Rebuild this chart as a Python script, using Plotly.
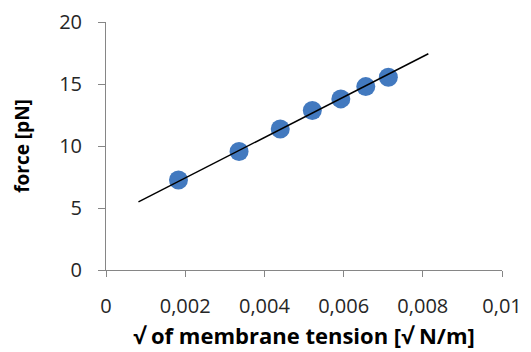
import plotly.graph_objects as go

tension_sqrt = [0.00183, 0.00336, 0.00440, 0.00521, 0.00593, 0.00656, 0.00713]
force_pN = [7.26, 9.56, 11.37, 12.87, 13.80, 14.79, 15.55]

trend_x = [0.00082, 0.00814]
trend_y = [5.5, 17.44]

x_tickvals = [0, 0.002, 0.004, 0.006, 0.008, 0.01]
x_ticktext = ["0", "0,002", "0,004", "0,006", "0,008", "0,01"]
y_tickvals = [0, 5, 10, 15, 20]

axis_color = "#868686"
font_family = "Open Sans, Liberation Sans, sans-serif"

fig = go.Figure()
fig.add_trace(go.Scatter(
    x=tension_sqrt, y=force_pN, mode="markers",
    marker=dict(size=19, color="#4279BF", line=dict(width=0)),
    showlegend=False, hoverinfo="skip",
))
fig.add_trace(go.Scatter(
    x=trend_x, y=trend_y, mode="lines",
    line=dict(color="#000000", width=1.5),
    showlegend=False, hoverinfo="skip",
))

fig.update_layout(
    width=531, height=352,
    margin=dict(l=106, r=29, t=22, b=82),
    paper_bgcolor="white", plot_bgcolor="white",
    font=dict(family=font_family, color="#262626"),
)
fig.update_xaxes(
    range=[0, 0.01], tickvals=x_tickvals, ticktext=x_ticktext,
    showgrid=False, zeroline=False, showline=True, linecolor=axis_color, linewidth=1,
    ticks="outside", ticklen=6, tickcolor=axis_color, ticklabelstandoff=12,
    tickfont=dict(size=20, color="#262626"),
    automargin=False,
    title=dict(text="<b>√ of membrane tension [√ N/m]</b>", font=dict(size=22, color="#000000"), standoff=10),
)
fig.update_yaxes(
    range=[0, 20], tickvals=y_tickvals,
    showgrid=False, zeroline=False, showline=True, linecolor=axis_color, linewidth=1,
    ticks="outside", ticklen=7, tickcolor=axis_color, ticklabelstandoff=12,
    tickfont=dict(size=20, color="#262626"),
    automargin=False,
    title=dict(text="<b>force [pN]</b>", font=dict(size=19, color="#000000"), standoff=24),
)

fig.write_html("out.html", config={"displayModeBar": False},
               post_script="document.body.style.margin='0';")
